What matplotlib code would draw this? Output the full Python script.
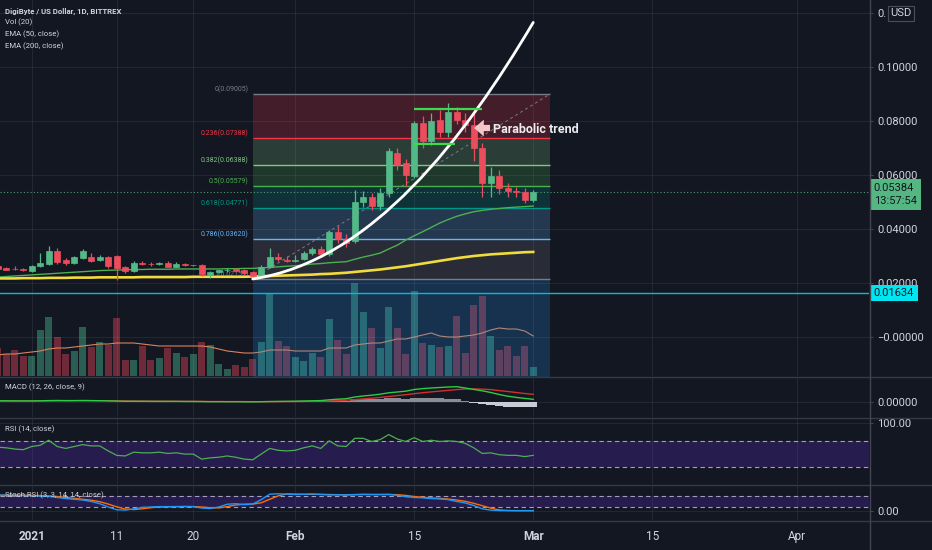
import numpy as np
import pandas as pd
import matplotlib
matplotlib.use("Agg")
import matplotlib.pyplot as plt
import matplotlib.dates as mdates
from matplotlib.path import Path
from matplotlib.patches import PathPatch
from matplotlib.lines import Line2D

plt.rcParams['font.family'] = ['Roboto', 'DejaVu Sans']

BG = '#131722'
TXT = '#d1d4dc'
GRID = '#ffffff'
GRID_ALPHA = 0.07
SEP = '#363a45'
UP = '#53b987'
DOWN = '#eb4d5c'

# daily candles, DGB/USD (Bittrex), 28 Dec 2020 .. 1 Mar 2021
dates = pd.date_range('2020-12-28', '2021-03-01', freq='D')

opens = [0.0262, 0.0254, 0.0253, 0.0252,
         0.0245, 0.0264, 0.0269, 0.0320, 0.0285, 0.0273, 0.0292, 0.0298, 0.0285, 0.0295,
         0.0300, 0.0258, 0.0246, 0.0275, 0.0272, 0.0269, 0.0273, 0.0261, 0.0270, 0.0265,
         0.0266, 0.0230, 0.0242, 0.0247, 0.0252, 0.0248, 0.0242, 0.0226, 0.0258, 0.0297,
         0.0287, 0.0280, 0.0288, 0.0310, 0.0326, 0.0307, 0.0390, 0.0362, 0.0356, 0.0501,
         0.0520, 0.0485, 0.0532, 0.0680, 0.0643, 0.0596, 0.0794, 0.0726, 0.0804, 0.0761,
         0.0835, 0.0804, 0.0787, 0.0699, 0.0570, 0.0596, 0.0551, 0.0540, 0.0537, 0.0508]
highs = [0.0266, 0.0258, 0.0262, 0.0256,
         0.0268, 0.0310, 0.0336, 0.0328, 0.0292, 0.0300, 0.0326, 0.0312, 0.0304, 0.0300,
         0.0303, 0.0262, 0.0282, 0.0282, 0.0276, 0.0278, 0.0280, 0.0276, 0.0274, 0.0268,
         0.0270, 0.0246, 0.0250, 0.0254, 0.0256, 0.0252, 0.0246, 0.0266, 0.0330, 0.0312,
         0.0300, 0.0304, 0.0318, 0.0334, 0.0336, 0.0398, 0.0412, 0.0380, 0.0545, 0.0540,
         0.0535, 0.0550, 0.0700, 0.0700, 0.0660, 0.0800, 0.0820, 0.0830, 0.0840, 0.0867,
         0.0850, 0.0830, 0.0830, 0.0720, 0.0630, 0.0620, 0.0570, 0.0555, 0.0550, 0.0545]
lows = [0.0250, 0.0248, 0.0248, 0.0243,
        0.0242, 0.0258, 0.0265, 0.0272, 0.0268, 0.0270, 0.0288, 0.0278, 0.0280, 0.0256,
        0.0212, 0.0238, 0.0240, 0.0266, 0.0262, 0.0265, 0.0258, 0.0258, 0.0262, 0.0262,
        0.0226, 0.0218, 0.0236, 0.0240, 0.0240, 0.0230, 0.02153, 0.0222, 0.0254, 0.0282,
        0.0276, 0.0276, 0.0284, 0.0304, 0.0296, 0.0300, 0.0350, 0.0335, 0.0350, 0.0480,
        0.0470, 0.0470, 0.0520, 0.0620, 0.0560, 0.0590, 0.0700, 0.0710, 0.0740, 0.0740,
        0.0790, 0.0760, 0.0650, 0.0520, 0.0520, 0.0530, 0.0520, 0.0520, 0.0495, 0.0500]
closes = [0.0252, 0.0250, 0.0251, 0.0247,
          0.0264, 0.0273, 0.0320, 0.0279, 0.0273, 0.0295, 0.0320, 0.0283, 0.0295, 0.0263,
          0.0254, 0.0246, 0.0275, 0.0269, 0.0269, 0.0274, 0.0261, 0.0272, 0.0265, 0.0266,
          0.0232, 0.0242, 0.0247, 0.0250, 0.0244, 0.0236, 0.0226, 0.0258, 0.0297, 0.0288,
          0.0282, 0.0287, 0.0312, 0.0326, 0.0307, 0.0390, 0.0362, 0.0349, 0.0501, 0.0520,
          0.0485, 0.0532, 0.0689, 0.0637, 0.0600, 0.0794, 0.0726, 0.0800, 0.0761, 0.0835,
          0.0804, 0.0785, 0.0699, 0.0570, 0.0598, 0.0551, 0.0539, 0.0537, 0.0506, 0.05384]

# volume (millions DGB) and its 20-day average
volume = [28, 22, 26, 20,
          20, 46, 59, 39, 22, 25, 49, 29, 34, 31,
          58, 16, 16, 30, 16, 18, 28, 23, 19, 22,
          34, 31, 12, 7, 11, 9, 17, 34, 83, 35,
          30, 19, 15, 23, 19, 57, 36, 22, 93, 64,
          48, 28, 69, 48, 22, 85, 33, 31, 29, 30,
          60, 23, 71, 80, 40, 26, 30, 20, 30, 9]
volume_ma = [21, 22, 22, 23,
             24, 25, 27, 28, 28, 29, 30, 31, 32, 32,
             33, 33, 33, 32, 31, 30, 30, 30, 30, 30,
             30, 29, 27, 25, 24, 23, 23, 24, 26, 26,
             26, 25, 25, 25, 25, 28, 28, 28, 31, 32,
             33, 33, 35, 37, 37, 39, 41, 43, 40, 39,
             39, 40, 41, 43, 46, 48, 47, 47, 45, 40]

ema50 = [0.0222, 0.0224, 0.0226, 0.0228,
         0.0230, 0.0232, 0.0234, 0.0236, 0.0238, 0.0240, 0.0242, 0.0244, 0.0246, 0.0247,
         0.0248, 0.0249, 0.0250, 0.0250, 0.0251, 0.0251, 0.0251, 0.0252, 0.0252, 0.0252,
         0.0252, 0.0252, 0.0252, 0.0253, 0.0253, 0.0254, 0.0254, 0.0256, 0.0258, 0.0260,
         0.0262, 0.0264, 0.0267, 0.0270, 0.0272, 0.0275, 0.0277, 0.0279, 0.0288, 0.0296,
         0.0303, 0.0311, 0.0326, 0.0340, 0.0359, 0.0375, 0.0390, 0.0406, 0.0422, 0.0435,
         0.0447, 0.0456, 0.0464, 0.0469, 0.0473, 0.0476, 0.0479, 0.0481, 0.0483, 0.0485]
ema200 = [0.0217, 0.0217, 0.0217, 0.0218,
          0.0218, 0.0218, 0.0219, 0.0219, 0.0219, 0.0220, 0.0220, 0.0220, 0.0221, 0.0221,
          0.0221, 0.0221, 0.0221, 0.0222, 0.0222, 0.0222, 0.0222, 0.0222, 0.0222, 0.0223,
          0.0223, 0.0223, 0.0223, 0.0223, 0.0223, 0.0223, 0.0224, 0.0225, 0.0226, 0.0227,
          0.0228, 0.0229, 0.0230, 0.0231, 0.0233, 0.0234, 0.0236, 0.0238, 0.0241, 0.0244,
          0.0247, 0.0250, 0.0254, 0.0258, 0.0262, 0.0267, 0.0272, 0.0277, 0.0282, 0.0287,
          0.0292, 0.0296, 0.0300, 0.0303, 0.0306, 0.0308, 0.0310, 0.0312, 0.0314, 0.0315]

macd = [0.00072, 0.00072, 0.00066, 0.00066,
        0.00066, 0.00072, 0.00084, 0.00090, 0.00084, 0.00084, 0.00090, 0.00084, 0.00078, 0.00066,
        0.00054, 0.00042, 0.00042, 0.00042, 0.00036, 0.00036, 0.00036, 0.00036, 0.00030, 0.00030,
        0.00024, 0.00018, 0.00018, 0.00018, 0.00018, 0.00012, 0.00012, 0.00018, 0.00030, 0.00036,
        0.00042, 0.00048, 0.00060, 0.00072, 0.00084, 0.00132, 0.00168, 0.00198, 0.00300, 0.00360,
        0.00408, 0.00468, 0.00552, 0.00600, 0.00648, 0.00750, 0.00804, 0.00840, 0.00870, 0.00900,
        0.00918, 0.00840, 0.00756, 0.00672, 0.00570, 0.00450, 0.00348, 0.00276, 0.00216, 0.00162]
macd_signal = [0.00060, 0.00060, 0.00060, 0.00060,
               0.00060, 0.00066, 0.00066, 0.00072, 0.00072, 0.00078, 0.00078, 0.00078, 0.00078, 0.00078,
               0.00072, 0.00066, 0.00060, 0.00054, 0.00054, 0.00048, 0.00048, 0.00042, 0.00042, 0.00042,
               0.00036, 0.00030, 0.00030, 0.00024, 0.00024, 0.00024, 0.00018, 0.00018, 0.00018, 0.00024,
               0.00024, 0.00030, 0.00036, 0.00042, 0.00048, 0.00060, 0.00084, 0.00108, 0.00144, 0.00186,
               0.00228, 0.00276, 0.00330, 0.00384, 0.00438, 0.00498, 0.00558, 0.00606, 0.00654, 0.00696,
               0.00744, 0.00780, 0.00786, 0.00774, 0.00744, 0.00684, 0.00630, 0.00570, 0.00510, 0.00462]

rsi = [61, 60, 58, 57,
       62, 64, 72, 62, 59, 62, 65, 63, 63, 55,
       48, 47, 53, 52, 52, 53, 51, 52, 50, 50,
       42, 44, 45, 47, 45, 42, 41, 50, 59, 56,
       55, 56, 60, 63, 59, 71, 63, 62, 75, 75,
       70, 73, 81, 74, 70, 76, 70, 72, 70, 71,
       70, 67, 60, 51, 52, 49, 48, 48, 46, 48]

stoch_k = [85, 84, 84, 83,
           82, 80, 78, 72, 66, 62, 58, 50, 38, 20,
           5, 3, 10, 18, 20, 22, 22, 22, 23, 22,
           14, 12, 20, 35, 38, 33, 36, 60, 90, 92,
           90, 88, 89, 91, 88, 86, 87, 86, 88, 89,
           88, 88, 89, 84, 76, 72, 70, 66, 64, 60,
           50, 42, 28, 10, 3, 0, 0, 0, 0, 0]
stoch_d = [84, 84, 84, 84,
           83, 82, 80, 77, 72, 67, 62, 57, 49, 36,
           21, 9, 6, 10, 16, 20, 21, 22, 22, 22,
           20, 16, 15, 22, 31, 35, 36, 43, 62, 81,
           91, 90, 89, 89, 89, 88, 87, 86, 87, 88,
           88, 88, 88, 87, 83, 77, 73, 69, 67, 63,
           58, 51, 40, 27, 14, 4, 1, 0, 0, 0]

# fibonacci retracement drawn from the 27 Jan low to 0.09005
fib_levels = [0, 0.236, 0.382, 0.5, 0.618, 0.786, 1, 1.618]
fib_prices = [0.09005, 0.07388, 0.06388, 0.05579, 0.04771, 0.03620, 0.02153, -0.02081]
fib_colors = ['#787b86', '#f23645', '#81c784', '#4caf50', '#009688', '#64b5f6', '#787b86', '#2196f3']
fib_start, fib_end = '2021-01-27', '2021-03-03'

# hand drawn parabola (bezier control points)
curve_dates = ['2021-01-27', '2021-02-10', '2021-02-21', '2021-03-01']
curve_prices = [0.0215, 0.0280, 0.0740, 0.1165]

# green range lines at the top
range_starts = ['2021-02-15', '2021-02-15']
range_ends = ['2021-02-23', '2021-02-19 19:00']
range_prices = [0.0843, 0.0714]

alert_price = 0.01634

price_ticks = [0.0, 0.02, 0.04, 0.06, 0.08, 0.10, 0.12]
price_labels = ['\u22120.00000', '0.02000', '0.04000', '0.06000', '0.08000', '0.10000', '0.']
tick_dates = ['2021-01-01', '2021-01-11', '2021-01-20', '2021-02-01',
              '2021-02-15', '2021-03-01', '2021-03-15', '2021-04-01']
tick_labels = ['2021', '11', '20', 'Feb', '15', 'Mar', '15', 'Apr']
bold_ticks = ['2021', 'Feb', 'Mar']

x = mdates.date2num(dates)
o, h, l, c = map(np.array, (opens, highs, lows, closes))
up = c >= o
cols = np.where(up, UP, DOWN)
tick_x = mdates.date2num(pd.to_datetime(tick_dates))
x_jan1 = mdates.date2num(pd.Timestamp('2021-01-01'))
xlim = (x_jan1 - 3.73, x_jan1 + 98.5)

fig = plt.figure(figsize=(9.32, 5.5), dpi=100, facecolor=BG)
W, H = 932, 550


def rect(top, bottom):
    return [0, 1 - bottom / H, 869 / W, (bottom - top) / H]


ax_vol = fig.add_axes(rect(0, 376))
ax = fig.add_axes(rect(0, 376))
ax_macd = fig.add_axes(rect(377, 417))
ax_rsi = fig.add_axes(rect(418, 484))
ax_st = fig.add_axes(rect(485, 520))

for a in (ax_vol, ax, ax_macd, ax_rsi, ax_st):
    a.set_xlim(*xlim)
    for s in a.spines.values():
        s.set_visible(False)
    a.set_facecolor(BG)
    a.set_xticks(tick_x)
    a.tick_params(axis='x', length=0, labelbottom=False)
    a.yaxis.tick_right()
    a.tick_params(axis='y', color='#434651', labelcolor=TXT, labelsize=8, length=3, pad=3)
    a.set_axisbelow(True)
ax.set_facecolor('none')

# volume underneath the price pane
ax_vol.set_ylim(0, 376)
ax_vol.set_yticks([])
ax_vol.bar(x, volume, width=0.78, color=np.where(up, '#2a5e52', '#6e2a38'), lw=0)
ax_vol.plot(x, volume_ma, color='#d9825b', lw=0.8)

# price pane
ax.set_ylim(-0.01444, 0.12481)
ax.set_yticks(price_ticks)
ax.set_yticklabels(price_labels)
ax.grid(True, color=GRID, alpha=GRID_ALPHA, lw=0.8)

fx0 = mdates.date2num(pd.Timestamp(fib_start))
fx1 = mdates.date2num(pd.Timestamp(fib_end))
for i in range(len(fib_prices) - 1):
    ax.fill_between([fx0, fx1], fib_prices[i + 1], fib_prices[i], color=fib_colors[i + 1],
                    alpha=0.22, lw=0, zorder=1)
for lvl, p, col in zip(fib_levels[:-1], fib_prices[:-1], fib_colors[:-1]):
    ax.hlines(p, fx0, fx1, color=col, lw=1, zorder=1.5)
    ax.annotate(f'{lvl:g}({p:.5f})', xy=(fx0, p), xytext=(-3, 0.5), textcoords='offset points',
                ha='right', va='bottom', fontsize=5, color=col, zorder=1.5)
ax.plot([fx0, fx1], [fib_prices[-2], fib_prices[0]], color='#787b86', ls=(0, (3, 3)), lw=0.7, zorder=1.5)

ax.axhline(alert_price, color='#00bcd4', lw=1, zorder=2)
ax.axhline(closes[-1], color='#4f9a78', ls=(0, (1, 2)), lw=0.8, zorder=2)

ax.plot(x, ema50, color='#4caf50', lw=1, zorder=3)
ax.plot(x, ema200, color='#f0dc3c', lw=1.9, zorder=3)

ax.vlines(x, l, h, colors=cols, lw=0.9, zorder=4)
ax.bar(x, np.abs(c - o), bottom=np.minimum(o, c), width=0.68, color=cols, edgecolor=cols,
       lw=0.5, zorder=4)

cx = mdates.date2num(pd.to_datetime(curve_dates))
path = Path(list(zip(cx, curve_prices)), [Path.MOVETO, Path.CURVE4, Path.CURVE4, Path.CURVE4])
ax.add_patch(PathPatch(path, fc='none', ec='white', lw=2, capstyle='round', zorder=5))

for s, e, p in zip(range_starts, range_ends, range_prices):
    ax.hlines(p, mdates.date2num(pd.Timestamp(s)), mdates.date2num(pd.Timestamp(e)),
              color='#3fd94a', lw=1.6, zorder=5)

arrow_y = 0.0774
ax.annotate('', xy=(mdates.date2num(pd.Timestamp('2021-02-22 01:00')), arrow_y),
            xytext=(mdates.date2num(pd.Timestamp('2021-02-23 22:00')), arrow_y),
            arrowprops=dict(arrowstyle='simple,head_length=0.7,head_width=1.2,tail_width=0.45',
                            color='#f5c6c8', lw=0, shrinkA=0, shrinkB=0, mutation_scale=10),
            zorder=6)
ax.text(mdates.date2num(pd.Timestamp('2021-02-24 05:00')), 0.0767, 'Parabolic trend',
        fontsize=9, fontweight='bold', color='#ececec', va='center', ha='left', zorder=6)

ax.annotate(f'{closes[-1]:.5f}\n13:57:54', xy=(1, closes[-1]), xycoords=ax.get_yaxis_transform(),
            xytext=(3.5, 6), textcoords='offset points', ha='left', va='top', fontsize=8,
            color=BG, linespacing=1.35, annotation_clip=False, zorder=10,
            bbox=dict(boxstyle='square,pad=0.35', fc='#54b782', ec='none'))
ax.annotate(f'{alert_price:.5f}', xy=(1, alert_price), xycoords=ax.get_yaxis_transform(),
            xytext=(3.5, 0), textcoords='offset points', ha='left', va='center', fontsize=8,
            color=BG, annotation_clip=False, zorder=10,
            bbox=dict(boxstyle='square,pad=0.3', fc='#00e5f2', ec='none'))

# MACD
hist = np.array(macd) - np.array(macd_signal)
ax_macd.set_ylim(-0.009, 0.015)
ax_macd.set_yticks([0])
ax_macd.set_yticklabels(['0.00000'])
ax_macd.grid(True, color=GRID, alpha=GRID_ALPHA, lw=0.8)
ax_macd.bar(x, hist, width=1.0, color=np.where(hist >= 0, '#8a8d96', '#c9ccd4'), lw=0)
ax_macd.plot(x, macd_signal, color='#d32f2f', lw=1)
ax_macd.plot(x, macd, color='#2ecc40', lw=1)

# RSI
ax_rsi.set_ylim(2.5, 107.3)
ax_rsi.set_yticks([100])
ax_rsi.set_yticklabels(['100.00'])
ax_rsi.grid(True, color=GRID, alpha=GRID_ALPHA, lw=0.8)
ax_rsi.axhspan(30, 70, color='#6a2ee8', alpha=0.22, lw=0)
for v in (30, 70):
    ax_rsi.axhline(v, color='#a3a0b5', ls=(0, (4, 3)), lw=0.8)
ax_rsi.plot(x, rsi, color='#4caf50', lw=0.9)

# Stoch RSI
ax_st.set_ylim(-51, 140)
ax_st.set_yticks([0])
ax_st.set_yticklabels(['0.00'])
ax_st.grid(True, color=GRID, alpha=GRID_ALPHA, lw=0.8)
ax_st.axhspan(20, 80, color='#6a2ee8', alpha=0.22, lw=0)
for v in (20, 80):
    ax_st.axhline(v, color='#a3a0b5', ls=(0, (4, 3)), lw=0.8)
ax_st.plot(x, stoch_d, color='#ff6d00', lw=1)
ax_st.plot(x, stoch_k, color='#2196f3', lw=1)
ax_st.tick_params(axis='x', labelbottom=True, labelcolor=TXT, labelsize=8.5, pad=7)
ax_st.set_xticklabels(tick_labels)
for t in ax_st.get_xticklabels():
    if t.get_text() in bold_ticks:
        t.set_fontweight('bold')

# pane separators and price-scale border
for ypx in (376.5, 417.5, 484.5, 520.5):
    fig.add_artist(Line2D([0, 1], [1 - ypx / H] * 2, color=SEP, lw=1))
fig.add_artist(Line2D([869.5 / W] * 2, [0, 1], color='#434651', lw=1))

fig.text(901 / W, 1 - 13.5 / H, 'USD', ha='center', va='center', fontsize=8, color=TXT,
         bbox=dict(boxstyle='square,pad=0.25', fc=BG, ec='#4a4e59', lw=0.8))

legend = ['DigiByte / US Dollar, 1D, BITTREX', 'Vol (20)', 'EMA (50, close)', 'EMA (200, close)']
for i, s in enumerate(legend):
    fig.text(5 / W, 1 - (11 + 11.6 * i) / H, s, fontsize=5.6, color=TXT, va='center',
             fontweight='bold' if i == 0 else 'normal')
for ypx, s in ((387, 'MACD (12, 26, close, 9)'), (429, 'RSI (14, close)'),
               (495, 'Stoch RSI (3, 3, 14, 14, close)')):
    fig.text(5 / W, 1 - ypx / H, s, fontsize=5.6, color=TXT, va='center')

fig.savefig('out.png', dpi=100, facecolor=BG)
